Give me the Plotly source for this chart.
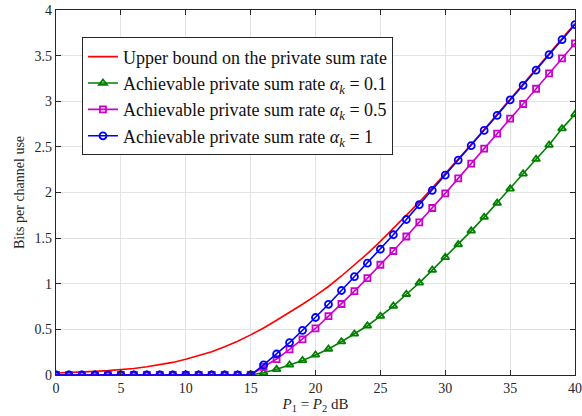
import plotly.graph_objects as go

snr_db = list(range(0, 41))

upper_bound = [0.022, 0.026, 0.032, 0.040, 0.048, 0.058, 0.072, 0.090, 0.110, 0.138,
               0.172, 0.210, 0.255, 0.310, 0.370, 0.440, 0.515, 0.600, 0.685, 0.775,
               0.870, 0.970, 1.085, 1.205, 1.330, 1.465, 1.605, 1.748, 1.895, 2.048,
               2.205, 2.365, 2.527, 2.691, 2.856, 3.022, 3.188, 3.354, 3.520, 3.686, 3.852]

rate_a01 = [0.0] * 16 + [0.025, 0.062, 0.110, 0.160, 0.220, 0.285, 0.365, 0.450, 0.540,
                         0.645, 0.756, 0.885, 1.010, 1.150, 1.290, 1.430, 1.580, 1.730,
                         1.885, 2.040, 2.205, 2.365, 2.520, 2.700, 2.857]

rate_a05 = [0.0] * 16 + [0.090, 0.175, 0.280, 0.390, 0.510, 0.645, 0.778, 0.920, 1.062,
                         1.208, 1.359, 1.518, 1.673, 1.830, 1.990, 2.155, 2.316, 2.480,
                         2.645, 2.810, 2.970, 3.137, 3.306, 3.470, 3.635]

rate_a1 = [0.0] * 16 + [0.110, 0.230, 0.355, 0.490, 0.630, 0.775, 0.926, 1.077, 1.226,
                        1.378, 1.537, 1.704, 1.866, 2.024, 2.190, 2.355, 2.513, 2.680,
                        2.846, 3.014, 3.175, 3.342, 3.510, 3.675, 3.840]

x_ticks = [0, 5, 10, 15, 20, 25, 30, 35, 40]
y_ticks = [0, 0.5, 1, 1.5, 2, 2.5, 3, 3.5, 4]
y_tick_text = ["0", "0.5", "1", "1.5", "2", "2.5", "3", "3.5", "4"]

FONT = "Liberation Serif, DejaVu Serif, serif"

fig = go.Figure()
fig.add_trace(go.Scatter(
    x=snr_db, y=upper_bound, mode="lines",
    line=dict(color="#ff0000", width=1.6),
    name="Upper bound on the private sum rate"))
fig.add_trace(go.Scatter(
    x=snr_db, y=rate_a01, mode="lines+markers",
    line=dict(color="#008000", width=1.6),
    marker=dict(symbol="triangle-up-open", size=7, color="#008000", line=dict(width=1.8)),
    name="Achievable private sum rate <i>α</i><sub><i>k</i></sub> = 0.1"))
fig.add_trace(go.Scatter(
    x=snr_db, y=rate_a05, mode="lines+markers",
    line=dict(color="#cc00cc", width=1.6),
    marker=dict(symbol="square-open", size=6, color="#cc00cc", line=dict(width=1.8)),
    name="Achievable private sum rate <i>α</i><sub><i>k</i></sub> = 0.5"))
fig.add_trace(go.Scatter(
    x=snr_db, y=rate_a1, mode="lines+markers",
    line=dict(color="#0000ff", width=1.6),
    marker=dict(symbol="circle-open", size=7, color="#0000ff", line=dict(width=1.8)),
    name="Achievable private sum rate <i>α</i><sub><i>k</i></sub> = 1"))

axis_common = dict(
    showgrid=True, gridcolor="#e3e3e3", gridwidth=1,
    showline=True, linecolor="#262626", linewidth=1.2, mirror="ticks",
    ticks="inside", ticklen=5, tickcolor="#262626", tickwidth=1,
    zeroline=False, automargin=False, ticklabeloverflow="allow",
    tickfont=dict(family=FONT, size=14, color="#262626"),
)

fig.update_xaxes(
    range=[0, 40], tickvals=x_ticks, ticktext=[str(v) for v in x_ticks],
    title=dict(text="<i>P</i><sub>1</sub> = <i>P</i><sub>2</sub> dB",
               font=dict(family=FONT, size=15, color="#262626"), standoff=2),
    **axis_common)
fig.update_yaxes(
    range=[0, 4], tickvals=y_ticks, ticktext=y_tick_text,
    title=dict(text="Bits per channel use",
               font=dict(family=FONT, size=14, color="#262626"), standoff=6),
    **axis_common)

fig.update_layout(
    width=582, height=416,
    margin=dict(l=56, r=7, t=10, b=41),
    paper_bgcolor="white", plot_bgcolor="white",
    font=dict(family=FONT, color="#262626"),
    legend=dict(
        x=0.05, y=0.925, xanchor="left", yanchor="top",
        bgcolor="white", bordercolor="#262626", borderwidth=1,
        font=dict(family=FONT, size=18, color="#111111"),
        tracegroupgap=0, itemwidth=30,
    ),
    showlegend=True,
)

fig.write_html("out.html")
